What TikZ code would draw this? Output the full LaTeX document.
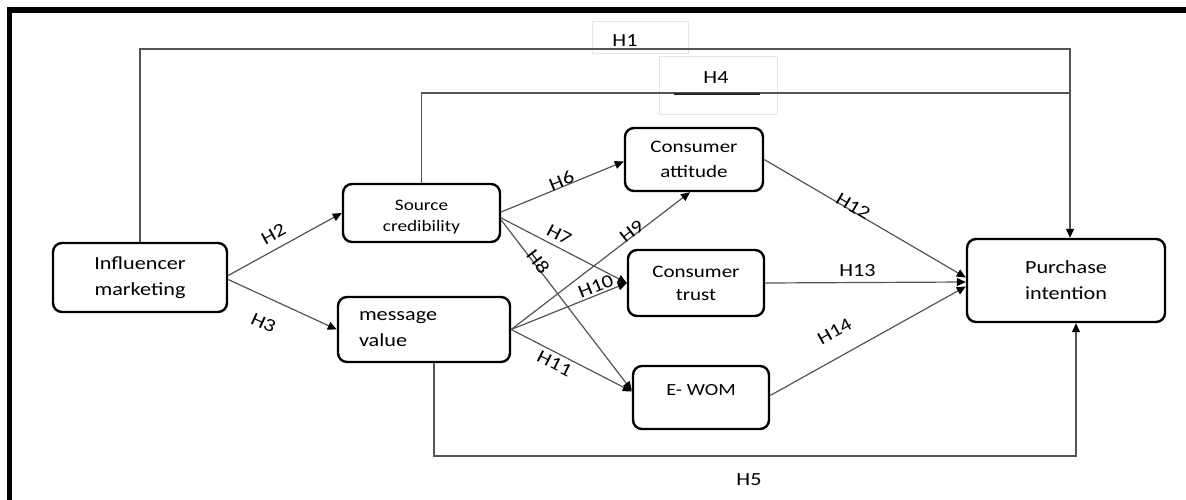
\documentclass[tikz,border=0pt]{standalone}
\usepackage{fontspec}
\setmainfont{Carlito}[FakeStretch=1.2]
\usetikzlibrary{arrows.meta,calc}
\definecolor{linegray}{gray}{0.33}
\definecolor{faint}{gray}{0.9}
\begin{document}
\begin{tikzpicture}[x=1pt,y=-1pt,
  box/.style={draw, line width=2.4pt, rounded corners=9pt, align=center, inner sep=0pt, text=black},
  conn/.style={draw=linegray, line width=1.2pt, -{Triangle[length=9pt,width=8pt,color=black]}},
  plainconn/.style={draw=linegray, line width=1.2pt},
  hl/.style={font=\fontsize{18.5}{22}\selectfont, inner sep=1pt, text=black},
  faintbox/.style={draw=faint, line width=1pt, inner sep=0pt}
]
\useasboundingbox (0,0) rectangle (1186,500);
% frame
\draw[line width=5.5pt] (9.5,500) -- (9.5,10) -- (1186,10);

% faint label boxes
\node[faintbox, minimum width=96pt, minimum height=32pt] (r1) at (640,38) {};
\node[faintbox, minimum width=118pt, minimum height=58pt] (r4) at (718,86) {};

% boxes
\node[box, minimum width=174pt, minimum height=69pt, font=\fontsize{18.5}{26}\selectfont] (inf) at (140,277.5) {Influencer\\marketing};
\node[box, minimum width=157pt, minimum height=58pt, font=\fontsize{16}{21}\selectfont] (src) at (421.5,213) {\raisebox{-4pt}[\height][\depth]{\begin{tabular}{@{}c@{}}Source\\credibility\end{tabular}}};
\node[box, minimum width=172pt, minimum height=65pt, font=\fontsize{18.5}{26}\selectfont, align=left, text width=130pt] (msg) at (424,329.5) {message\\value};
\node[box, minimum width=138pt, minimum height=63pt, font=\fontsize{17.5}{25}\selectfont] (att) at (694,159.5) {Consumer\\attitude};
\node[box, minimum width=136pt, minimum height=66pt, font=\fontsize{17.5}{23}\selectfont] (tru) at (696,283) {Consumer\\trust};
\node[box, minimum width=136pt, minimum height=63pt, font=\fontsize{17}{21}\selectfont] (wom) at (701,397.5) {E- WOM\\[-12pt]\strut};
\node[box, minimum width=198pt, minimum height=83pt, font=\fontsize{18.5}{26}\selectfont] (pur) at (1066,280.5) {Purchase\\intention};

% corner coordinates of the long paths
\coordinate (h1c) at (1070,49);
\coordinate (h4c) at (1070,93);
\coordinate (h5c) at (1076,456);

% long paths
\draw[conn] (inf.north) |- (h1c) -- (h1c |- pur.north);
\draw[plainconn] (src.north) |- (h4c);
\draw[conn] ($(msg.south)+(10,0)$) |- (h5c) -- (h5c |- pur.south);

\node[hl] (lh1) at (625,41) {H1};
\node[hl] (lh4) at (716,78) {H4};
\node[hl] (lh5) at (749,480) {H5};
\draw[line width=1.4pt, black!85] ($(lh4)+(-42,16)$) -- ++(86,0);

% diagonal connectors
\draw[conn] ($(inf.east)+(0,-2)$) -- node[hl, sloped, above=7pt, pos=0.46] {H2} (src.west);
\draw[conn] ($(inf.east)+(0,2)$) -- node[hl, sloped, below=17pt, pos=0.42] {H3} (msg.west);
\draw[conn] ($(src.east)+(0,-1)$) -- node[hl, sloped, above=-2pt, pos=0.51] {H6} ($(att.west)+(0,2)$);
\draw[conn] ($(src.east)+(0,5)$) -- node[hl, sloped, above=4pt, pos=0.42] {H7} (tru.west);
\draw[conn] ($(src.east)+(0,7)$) -- node[hl, sloped, above=-4pt, pos=0.26] {H8} ($(wom.west)+(0,-7)$);
\draw[conn] (msg.east) -- node[hl, sloped, above=-3pt, pos=0.69] {H9} ($(att.south)+(-4,0)$);
\draw[conn] (msg.east) -- node[hl, sloped, above=1pt, pos=0.76] {H10} (tru.west);
\draw[conn] (msg.east) -- node[hl, sloped, below=3pt, pos=0.40] {H11} ($(wom.west)+(0,-6)$);
\draw[conn] (att.east) -- node[hl, sloped, above=-3pt, pos=0.43] {H12} ($(pur.west)+(0,-3)$);
\draw[conn] (tru.east) -- node[hl, sloped, above=4pt, pos=0.46] {H13} ($(pur.west)+(0,1.5)$);
\draw[conn] ($(wom.east)+(0,-2)$) -- node[hl, sloped, above=17pt, pos=0.39] {H14} ($(pur.west)+(0,6)$);
\end{tikzpicture}
\end{document}
